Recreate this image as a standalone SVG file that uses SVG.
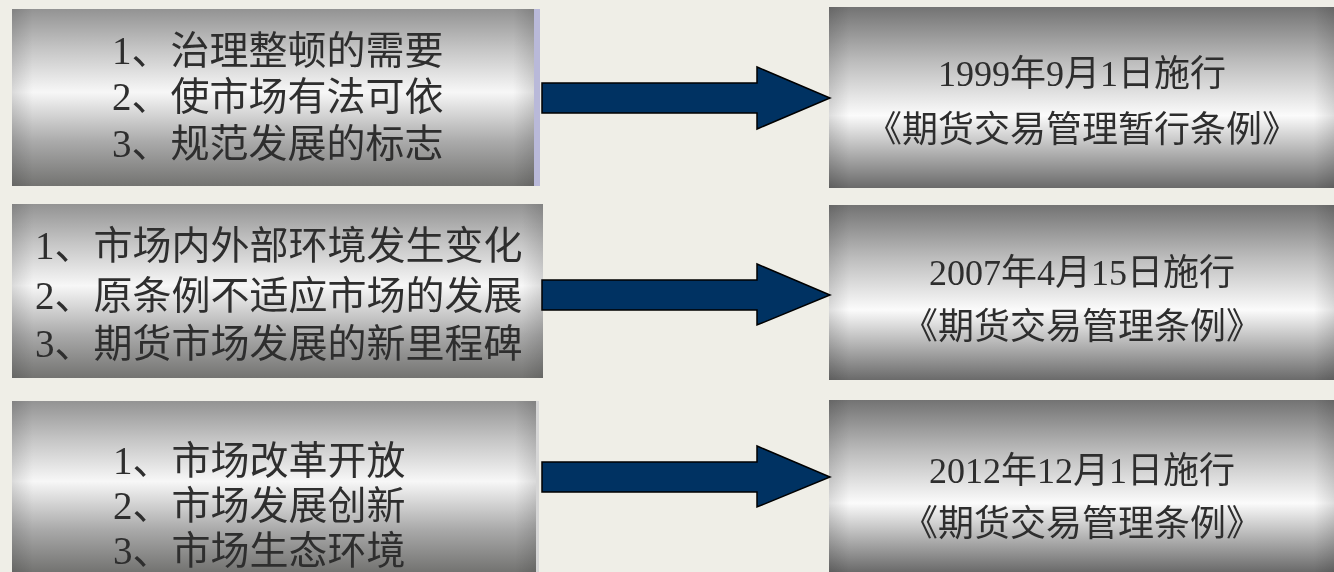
<svg xmlns="http://www.w3.org/2000/svg" width="1334" height="572" viewBox="0 0 1334 572">
<defs>
<linearGradient id="gL" x1="0" y1="0" x2="0" y2="1">
<stop offset="0" stop-color="#939393"/>
<stop offset="0.22" stop-color="#c4c4c4"/>
<stop offset="0.47" stop-color="#f7f7f7"/>
<stop offset="0.75" stop-color="#aaaaaa"/>
<stop offset="1" stop-color="#737371"/>
</linearGradient>
<linearGradient id="gR" x1="0" y1="0" x2="0" y2="1">
<stop offset="0" stop-color="#737373"/>
<stop offset="0.3" stop-color="#bcbcbc"/>
<stop offset="0.6" stop-color="#fbfbfb"/>
<stop offset="0.84" stop-color="#a4a4a4"/>
<stop offset="1" stop-color="#6a6a6a"/>
</linearGradient>
<linearGradient id="gEdge" x1="0" y1="0" x2="1" y2="0">
<stop offset="0" stop-color="#000" stop-opacity="0.12"/>
<stop offset="0.04" stop-color="#000" stop-opacity="0"/>
<stop offset="0.96" stop-color="#000" stop-opacity="0"/>
<stop offset="1" stop-color="#000" stop-opacity="0.12"/>
</linearGradient>
<filter id="soft" x="-5%" y="-20%" width="110%" height="140%">
<feGaussianBlur stdDeviation="0.5"/>
</filter>
</defs>
<style>
.bg{fill:#efeee7}
.boxL{fill:url(#gL)}
.boxR{fill:url(#gR)}
.edge{fill:url(#gEdge)}
.t{font-family:"Liberation Serif","Noto Sans CJK SC",serif;fill:#2e2e2e}
.tl{font-size:39px}
.tr{font-size:36px;text-anchor:middle}
.arrow{fill:#003262;stroke:#000;stroke-width:1.5;stroke-linejoin:miter}
</style>
<rect class="bg" x="0" y="0" width="1334" height="572"/>

<g id="left1">
<rect class="boxL" x="12" y="9" width="522" height="177"/>
<rect class="edge" x="12" y="9" width="522" height="177"/>
<rect x="534" y="9" width="6" height="177" fill="#b9b9d9"/>
<g class="t tl" filter="url(#soft)">
<text x="112" y="64">1、治理整顿的需要</text>
<text x="112" y="110">2、使市场有法可依</text>
<text x="112" y="157">3、规范发展的标志</text>
</g>
</g>

<g id="left2">
<rect class="boxL" x="12" y="204" width="531" height="174"/>
<rect class="edge" x="12" y="204" width="531" height="174"/>
<g class="t tl" filter="url(#soft)">
<text x="35" y="259">1、市场内外部环境发生变化</text>
<text x="35" y="309">2、原条例不适应市场的发展</text>
<text x="35" y="357">3、期货市场发展的新里程碑</text>
</g>
</g>

<g id="left3">
<rect class="boxL" x="12" y="401" width="524" height="171"/>
<rect class="edge" x="12" y="401" width="524" height="171"/>
<rect x="536" y="401" width="3" height="171" fill="#d6d6d6"/>
<g class="t tl" filter="url(#soft)">
<text x="113" y="474">1、市场改革开放</text>
<text x="113" y="519">2、市场发展创新</text>
<text x="113" y="564">3、市场生态环境</text>
</g>
</g>

<g id="right1">
<rect class="boxR" x="829" y="7" width="505" height="181"/>
<rect class="edge" x="829" y="7" width="505" height="181"/>
<g class="t tr" filter="url(#soft)">
<text x="1082" y="86">1999年9月1日施行</text>
<text x="1082" y="142">《期货交易管理暂行条例》</text>
</g>
</g>

<g id="right2">
<rect class="boxR" x="829" y="205" width="505" height="175"/>
<rect class="edge" x="829" y="205" width="505" height="175"/>
<g class="t tr" filter="url(#soft)">
<text x="1082" y="285">2007年4月15日施行</text>
<text x="1082" y="339">《期货交易管理条例》</text>
</g>
</g>

<g id="right3">
<rect class="boxR" x="829" y="400" width="505" height="172"/>
<rect class="edge" x="829" y="400" width="505" height="172"/>
<g class="t tr" filter="url(#soft)">
<text x="1082" y="483">2012年12月1日施行</text>
<text x="1082" y="536">《期货交易管理条例》</text>
</g>
</g>

<g id="connectors">
<path class="arrow" d="M542 83 H757 V67 L830 98 L757 129 V113 H542 Z"/>
<path class="arrow" d="M542 280 H757 V264 L830 295 L757 325 V310 H542 Z"/>
<path class="arrow" d="M542 462 H757 V446 L830 477 L757 507 V492 H542 Z"/>
</g>
</svg>
